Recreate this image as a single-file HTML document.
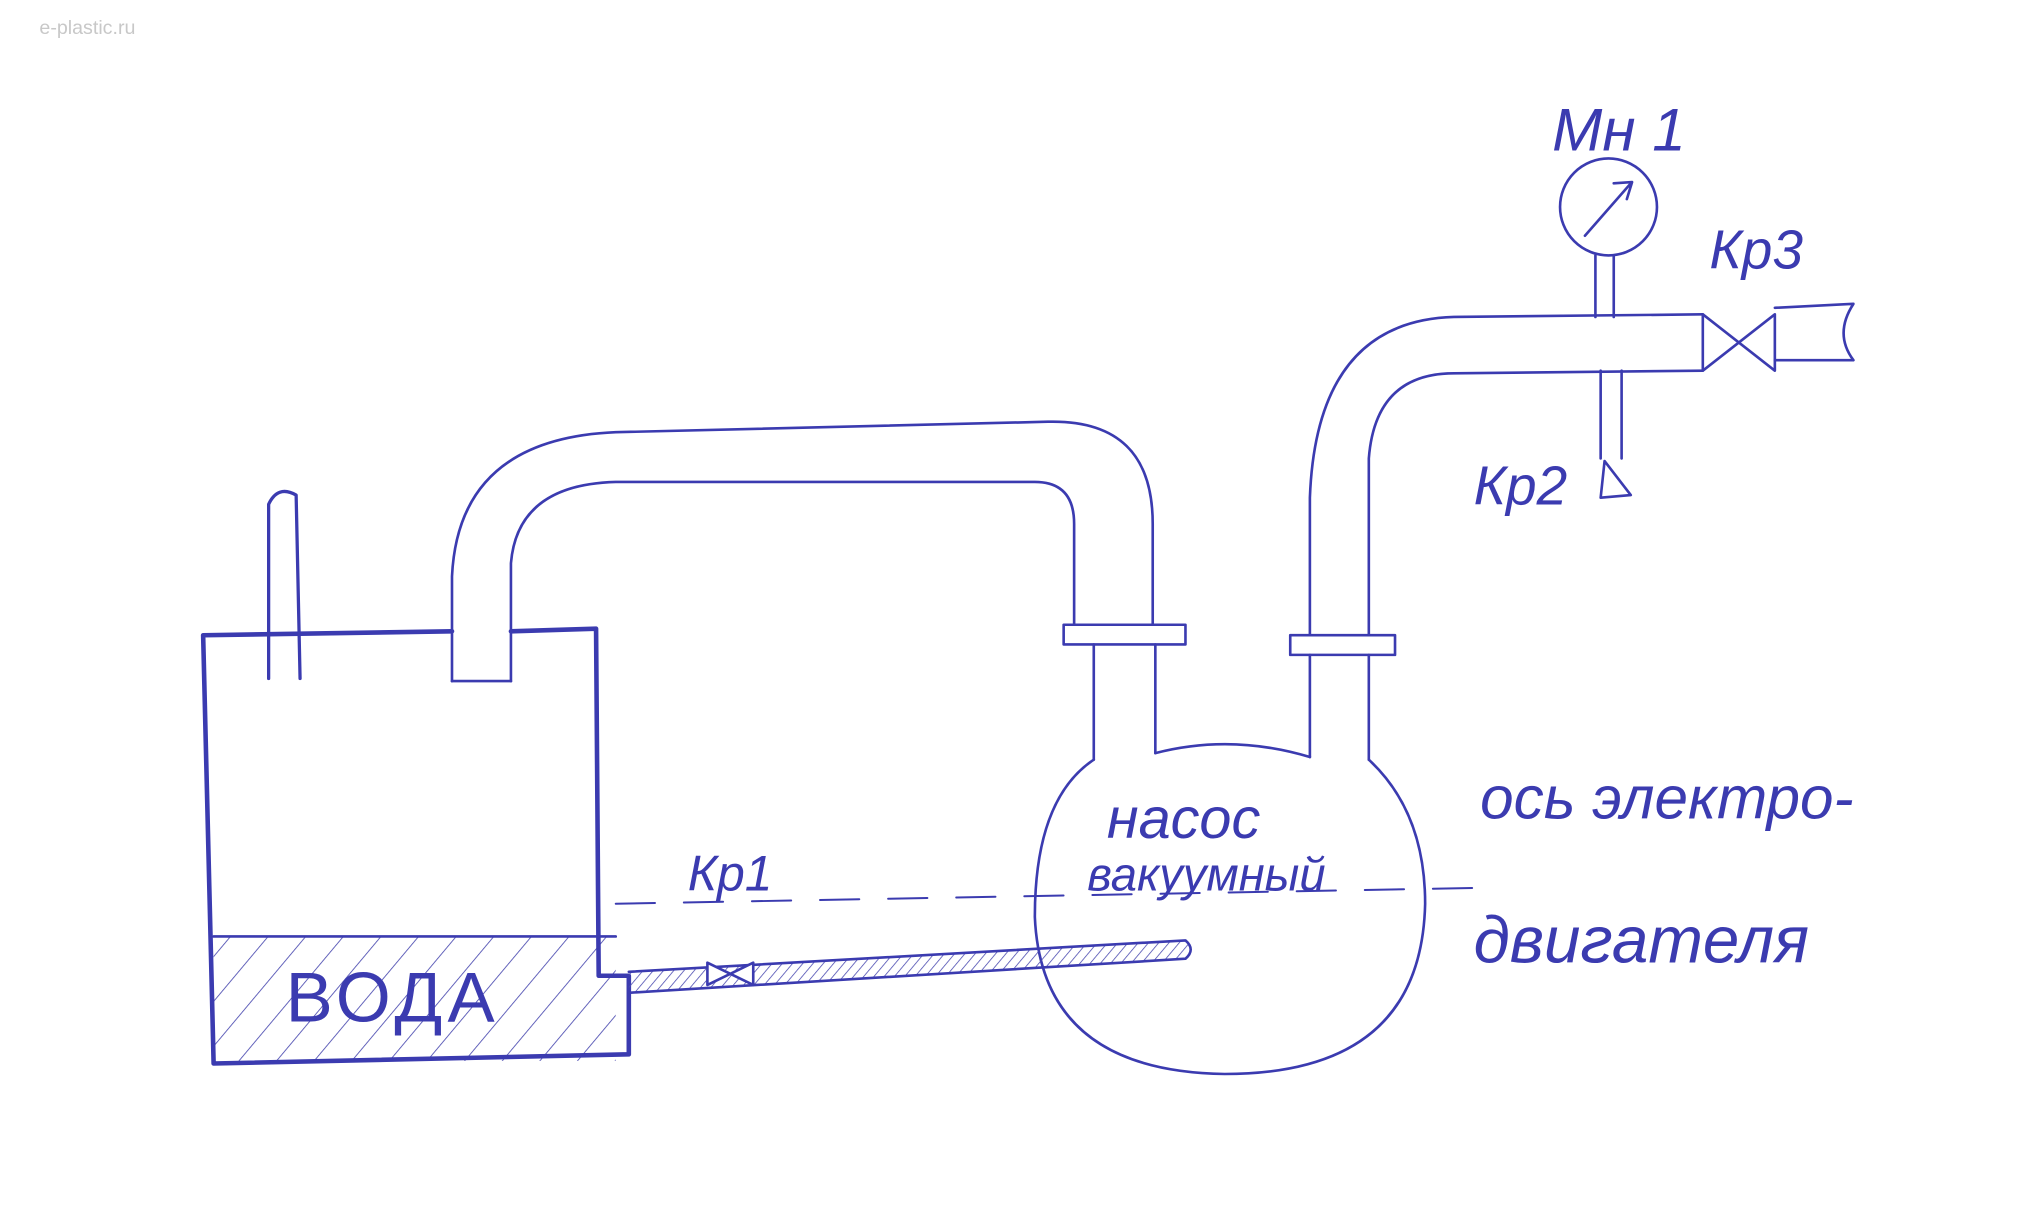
<!DOCTYPE html>
<html><head><meta charset="utf-8"><style>
html,body{margin:0;padding:0;background:#fff;}
svg{display:block;}
text{font-family:"Liberation Sans","DejaVu Sans",sans-serif;fill:#3b3bb0;font-style:italic;}
</style></head><body>
<svg width="2033" height="1222" viewBox="0 0 1552 933" xmlns="http://www.w3.org/2000/svg">
<defs>
<pattern id="h" width="22" height="22" patternUnits="userSpaceOnUse" patternTransform="rotate(40)">
<line x1="0" y1="0" x2="0" y2="22" stroke="#4a4ab0" stroke-width="1.3"/></pattern>
<pattern id="h2" width="6" height="6" patternUnits="userSpaceOnUse" patternTransform="rotate(40)">
<line x1="0" y1="0" x2="0" y2="6" stroke="#4a4ab0" stroke-width="1.2"/></pattern>
</defs>
<text x="30" y="26" font-size="15" style="fill:#c8c8c8;font-style:normal">e-plastic.ru</text>
<g fill="none" stroke="#3b3bb0" stroke-width="2" stroke-linecap="round" stroke-linejoin="round">
<rect x="163" y="715" width="307" height="95" fill="url(#h)" stroke="none"/>
<path d="M155 485 L345 482 M390 482 L455 480 L457 745 L480 745 L480 805 L163 812 L155 485" stroke-width="3.5"/>
<line x1="163" y1="715" x2="470" y2="715"/>
<path d="M205 518 L205 385 Q212 370 226 378 L229 518" stroke-width="2.5"/>
<path d="M345 520 L345 440 Q350 335 470 330 L800 322 Q880 320 880 400 L880 477"/>
<path d="M390 520 L390 430 Q395 370 470 368 L790 368 Q820 368 820 400 L820 477"/>
<line x1="345" y1="520" x2="390" y2="520"/>
<rect x="812" y="477" width="93" height="15"/>
<path d="M835 492 L835 580 M882 492 L882 575 M1000 500 L1000 578 M1045 500 L1045 580"/>
<rect x="985" y="485" width="80" height="15"/>
<path d="M882 575 Q940 560 1000 578 M1045 580 Q1088 620 1088 690 Q1085 820 935 820 Q795 818 790 700 Q790 610 835 580"/>
<path d="M1000 485 L1000 380 Q1005 245 1110 242 L1300 240"/>
<path d="M1045 485 L1045 350 Q1050 285 1110 285 L1300 283"/>
<path d="M1300 240 L1355 283 L1355 240 L1300 283 Z"/>
<path d="M1355 235 L1415 232 Q1400 255 1415 275 L1355 275"/>
<circle cx="1228" cy="158" r="37"/>
<path d="M1210 180 L1245 140 M1232 140 L1246 139 L1242 152"/>
<path d="M1218 195 L1218 242 M1232 195 L1232 242"/>
<path d="M1222 283 L1222 350 M1238 283 L1238 350 M1225 352 L1245 378 L1222 380 Z"/>
<path d="M470 690 L1125 678" stroke-dasharray="30 22" stroke-width="1.5"/>
<path d="M480 742 L905 718 Q913 725 905 732 L480 758" fill="url(#h2)"/>
<path d="M540 735 L575 752 L575 735 L540 752 Z" fill="#fff"/>
</g>
<text x="218" y="780" font-size="54" letter-spacing="4" style="font-style:normal">ВОДА</text>
<text x="525" y="680" font-size="38">Кр1</text>
<text x="845" y="640" font-size="44">насос</text>
<text x="830" y="680" font-size="36">вакуумный</text>
<text x="1130" y="625" font-size="46">ось электро-</text>
<text x="1125" y="735" font-size="50">двигателя</text>
<text x="1185" y="115" font-size="46">Мн 1</text>
<text x="1305" y="205" font-size="42">Кр3</text>
<text x="1125" y="385" font-size="42">Кр2</text>
</svg>
</body></html>
